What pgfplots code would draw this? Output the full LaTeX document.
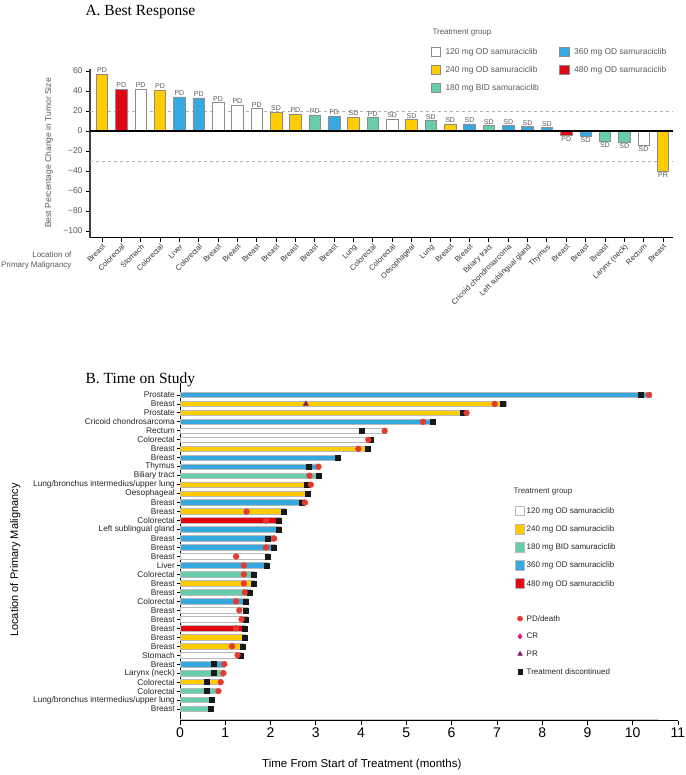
\documentclass[border=0pt]{standalone}
\usepackage{fontspec}
\setmainfont{Liberation Sans}
\newfontfamily\titlefont{Liberation Serif}
\usepackage{pgfplots}
\pgfplotsset{compat=1.18}
\definecolor{cW}{RGB}{255,255,255}
\definecolor{cY}{RGB}{255,204,0}
\definecolor{cG}{RGB}{102,204,172}
\definecolor{cB}{RGB}{53,168,224}
\definecolor{cR}{RGB}{227,6,19}
\definecolor{dotred}{RGB}{229,58,47}
\definecolor{crmag}{RGB}{224,25,125}
\definecolor{prpur}{RGB}{139,26,94}
\definecolor{txtgray}{RGB}{90,90,90}
\pgfplotsset{boxlegA/.style={legend image code/.code={\draw[##1] (0pt,-4.5pt) rectangle (9.5pt,5pt); \path[draw=none,fill=none] (0pt,0pt) -- (13pt,0pt);}}}
\pgfplotsset{boxleg/.style={legend image code/.code={\draw[##1] (0pt,-4.5pt) rectangle (9.5pt,5pt);}}}
\pgfplotsset{markleg/.style={legend image code/.code={\path[draw=none,fill=none] (0pt,-4.5pt) rectangle (9.5pt,5pt); \draw[##1] plot coordinates {(4.75pt,0.25pt)};}}}
\pgfplotsset{abar/.style={ybar, bar shift=0pt, bar width=11.5pt, fill=#1, draw=black!45, line width=0.6pt}}
\pgfplotsset{bbar/.style={xbar, bar shift=0pt, bar width=5.5pt, fill=#1, draw=gray!55, line width=0.8pt}}
\begin{document}
\begin{tikzpicture}
\useasboundingbox (0,0) rectangle (685pt,775pt);
\node[anchor=west, font=\titlefont\fontsize{15.5}{18}\selectfont] at (82pt,763pt) {A. Best Response};
\node[anchor=west, font=\titlefont\fontsize{15.5}{18}\selectfont] at (82pt,395pt) {B. Time on Study};
\node[anchor=east, align=right, font=\fontsize{8}{10}\selectfont, text=txtgray] at (75pt,515pt) {Location of\\Primary Malignancy};
\node[anchor=west, font=\fontsize{8}{10}\selectfont, text=txtgray] at (429pt,742pt) {Treatment group};
\node[anchor=west, font=\fontsize{8}{10}\selectfont, text=black!80] at (510pt,283pt) {Treatment group};
% ---------------- Panel A
\begin{axis}[
  at={(90pt,537pt)}, anchor=south west, scale only axis,
  width=583pt, height=169pt,
  xmin=-0.62, xmax=29.52, ymin=-107, ymax=62,
  axis x line=bottom, axis y line=left,
  axis line style={-},
  x axis line style={black, line width=1pt},
  y axis line style={black!75, line width=1.2pt},
  tick align=outside, major tick length=4pt,
  tick style={black, line width=0.8pt},
  xtick={0,...,29},
  xticklabels={Breast,Colorectal,Stomach,Colorectal,Liver,Colorectal,Breast,Breast,Breast,Breast,Breast,Breast,Breast,Lung,Colorectal,Colorectal,Oesophageal,Lung,Breast,Breast,Biliary tract,Cricoid chondrosarcoma,Left sublingual gland,Thymus,Breast,Breast,Breast,Larynx (neck),Rectum,Breast},
  xticklabel style={rotate=45, anchor=north east, font=\fontsize{7.5}{8}\selectfont, text=black!80, inner sep=1pt},
  ytick={-100,-80,-60,-40,-20,0,20,40,60},
  yticklabels={−100,−80,−60,−40,−20,0,20,40,60},
  yticklabel style={font=\fontsize{8.5}{10}\selectfont, text=txtgray},
  ylabel={Best Percentage Change in Tumor Size},
  ylabel style={at={(axis description cs:-0.0703,0.503)}, anchor=center, rotate=0, font=\fontsize{8.5}{10}\selectfont, text=txtgray},
  point meta=explicit symbolic,
  nodes near coords,
  nodes near coords style={font=\fontsize{7}{8}\selectfont, text=txtgray, inner sep=1pt},
  legend columns=2,
  legend style={at={(axis description cs:0.579,1.144)}, anchor=north west, draw=none, fill=none,
    font=\fontsize{8.4}{10}\selectfont, text=txtgray,
    nodes={inner sep=1.5pt}, row sep=7.3pt,
    /tikz/every even column/.append style={column sep=19pt}},
  legend cell align=left,
]
\addplot[dashed, black!30, line width=0.6pt, forget plot, nodes near coords=] coordinates {(-0.62,20) (29.52,20)};
\addplot[dashed, black!30, line width=0.6pt, forget plot, nodes near coords=] coordinates {(-0.62,-30) (29.52,-30)};
\addplot[abar=cW, boxlegA] coordinates {
 (2,42) [PD] (6,28.5) [PD] (7,26) [PD] (8,22.5) [PD] (15,12) [SD]};
\addlegendentry{120 mg OD samuraciclib}
\addplot[abar=cB, boxlegA] coordinates {
 (4,34) [PD] (5,33) [PD] (12,15) [PD] (19,7) [SD] (21,5.3) [SD] (22,4.6) [SD] (23,3.3) [SD]};
\addlegendentry{360 mg OD samuraciclib}
\addplot[abar=cY, boxlegA] coordinates {
 (0,57) [PD] (3,41) [PD] (9,18.7) [SD] (10,17) [PD] (13,13.7) [SD] (16,11.6) [SD] (18,7) [SD]};
\addlegendentry{240 mg OD samuraciclib}
\addplot[abar=cR, boxlegA] coordinates {
 (1,42) [PD]};
\addlegendentry{480 mg OD samuraciclib}
\addplot[abar=cG, boxlegA] coordinates {
 (11,16) [PD] (14,13.6) [PD] (17,10.6) [SD] (20,5.3) [SD]};
\addlegendentry{180 mg BID samuraciclib}
% negative bars: labels below
\addplot[abar=cW, forget plot, nodes near coords style={anchor=north}] coordinates {(28,-14.3) [SD]};
\addplot[abar=cB, forget plot, nodes near coords style={anchor=north}] coordinates {(25,-5.5) [SD]};
\addplot[abar=cY, forget plot, nodes near coords style={anchor=north}] coordinates {(29,-40) [PR]};
\addplot[abar=cR, forget plot, nodes near coords style={anchor=north}] coordinates {(24,-4.3) [PD]};
\addplot[abar=cG, forget plot, nodes near coords style={anchor=north}] coordinates {(26,-10.7) [SD] (27,-11.3) [SD]};
\addplot[black, line width=1.5pt, forget plot, nodes near coords=] coordinates {(-0.62,0) (29.52,0)};
\end{axis}
% ---------------- Panel B
\begin{axis}[
  at={(180pt,54pt)}, anchor=south west, scale only axis,
  width=498pt, height=338pt,
  xmin=0, xmax=11, ymin=-0.33, ymax=37.33,
  axis x line=bottom, axis y line=left,
  axis line style={-, black, line width=1pt},
  tick align=outside, major tick length=3.5pt,
  tick style={black, line width=0.8pt},
  xtick={0,...,11},
  xticklabel style={font=\fontsize{14}{16}\selectfont},
  /pgf/number format/assume math mode=true,
  ytick={1,...,36},
  yticklabels={Breast,Lung/bronchus intermedius/upper lung,Colorectal,Colorectal,Larynx (neck),Breast,Stomach,Breast,Breast,Breast,Breast,Breast,Colorectal,Breast,Breast,Colorectal,Liver,Breast,Breast,Breast,Left sublingual gland,Colorectal,Breast,Breast,Oesophageal,Lung/bronchus intermedius/upper lung,Biliary tract,Thymus,Breast,Breast,Colorectal,Rectum,Cricoid chondrosarcoma,Prostate,Breast,Prostate},
  yticklabel style={font=\fontsize{8.3}{9}\selectfont, text=black!85, inner sep=1.5pt},
  xlabel={Time From Start of Treatment (months)},
  xlabel style={at={(axis description cs:0.365,-0.130)}, anchor=center, font=\fontsize{11.5}{13}\selectfont},
  ylabel={Location of Primary Malignancy},
  ylabel style={at={(axis description cs:-0.331,0.476)}, anchor=center, rotate=0, font=\fontsize{11}{13}\selectfont},
  legend style={at={(axis description cs:0.666,0.643)}, anchor=north west, draw=none, fill=none,
    font=\fontsize{8}{10}\selectfont, text=black!85,
    nodes={inner sep=1.5pt}, row sep=7.6pt},
  legend cell align=left,
]
\addplot[gray!45, line width=1.2pt, forget plot] coordinates {(0,-0.2) (10.55,-0.2)};
\addplot[bbar=cW, boxleg] coordinates {
 (4.55,32) (4.24,31) (1.95,18) (1.48,12) (1.48,11) (1.35,7)};
\addlegendentry{120 mg OD samuraciclib}
\addplot[bbar=cY, boxleg] coordinates {
 (7.20,35) (6.38,34) (4.20,30) (2.88,26) (2.85,25) (2.33,23) (1.64,15) (1.44,9) (1.41,8) (0.88,4)};
\addlegendentry{240 mg OD samuraciclib}
\addplot[bbar=cG, boxleg] coordinates {
 (3.08,27) (1.64,16) (1.55,14) (0.95,5) (0.85,3) (0.73,2) (0.69,1)};
\addlegendentry{180 mg BID samuraciclib}
\addplot[bbar=cB, boxleg] coordinates {
 (10.42,36) (5.62,33) (3.52,29) (3.08,28) (2.75,24) (2.22,21) (2.08,20) (2.10,19) (1.93,17) (1.48,13) (0.97,6)};
\addlegendentry{360 mg OD samuraciclib}
\addplot[bbar=cR, boxleg] coordinates {
 (2.22,22) (1.44,10)};
\addlegendentry{480 mg OD samuraciclib}
% treatment discontinued
\addplot[only marks, mark=square*, mark size=2.5pt, color=black!90, forget plot] coordinates {
 (10.17,36) (7.12,35) (6.25,34) (5.58,33) (4.01,32) (4.21,31) (4.14,30) (3.49,29) (2.85,28) (3.06,27)
 (2.80,26) (2.82,25) (2.69,24) (2.30,23) (2.19,22) (2.19,21) (1.94,20) (2.08,19) (1.93,18) (1.91,17)
 (1.62,16) (1.62,15) (1.53,14) (1.46,13) (1.46,12) (1.46,11) (1.42,10) (1.42,9) (1.39,8) (1.34,7)
 (0.74,6) (0.74,5) (0.58,4) (0.58,3) (0.71,2) (0.67,1)};
% PD/death
\addplot[only marks, mark=*, mark size=2.9pt, color=dotred, forget plot] coordinates {
 (10.36,36) (6.95,35) (6.33,34) (5.37,33) (4.52,32) (4.16,31) (3.94,30) (3.06,28) (2.86,27)
 (2.89,26) (2.76,24) (1.47,23) (1.90,22) (2.08,20) (1.90,19) (1.24,18) (1.41,17)
 (1.41,16) (1.41,15) (1.43,14) (1.24,13) (1.31,12) (1.36,11) (1.24,10) (1.15,8) (1.27,7)
 (0.98,6) (0.96,5) (0.90,4) (0.85,3)};
% PR
\addplot[only marks, mark=triangle*, mark size=3pt, color=prpur, forget plot] coordinates {(2.78,35)};
\addlegendimage{empty legend}
\addlegendentry{\rule{0pt}{5pt}}
\addlegendimage{only marks, mark=*, mark size=2.6pt, color=dotred, markleg}
\addlegendentry{PD/death}
\addlegendimage{only marks, mark=diamond*, mark size=2.8pt, color=crmag, markleg}
\addlegendentry{CR}
\addlegendimage{only marks, mark=triangle*, mark size=2.8pt, color=prpur, markleg}
\addlegendentry{PR}
\addlegendimage{only marks, mark=square*, mark size=2.2pt, color=black!90, markleg}
\addlegendentry{Treatment discontinued}
\end{axis}
\end{tikzpicture}
\end{document}
